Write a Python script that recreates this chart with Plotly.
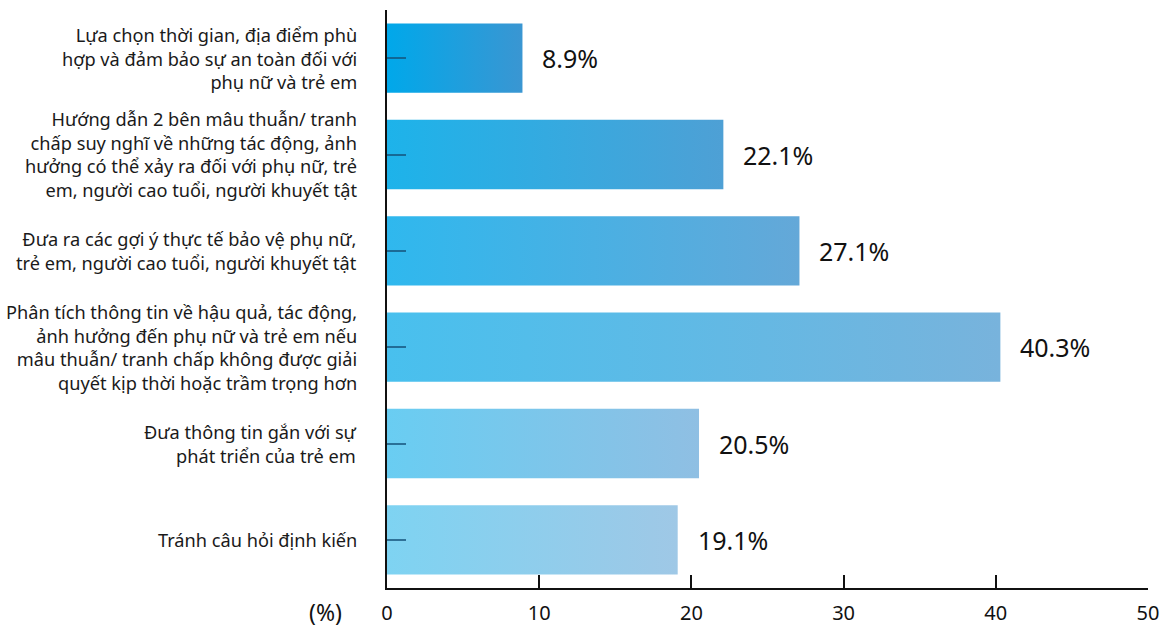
import plotly.graph_objects as go

# Survey items (top to bottom) and their shares in percent
categories = [
    "Lựa chọn thời gian, địa điểm phù<br>hợp và đảm bảo sự an toàn đối với<br>phụ nữ và trẻ em",
    "Hướng dẫn 2 bên mâu thuẫn/ tranh<br>chấp suy nghĩ về những tác động, ảnh<br>hưởng có thể xảy ra đối với phụ nữ, trẻ<br>em, người cao tuổi, người khuyết tật",
    "Đưa ra các gợi ý thực tế bảo vệ phụ nữ,<br>trẻ em, người cao tuổi, người khuyết tật",
    "Phân tích thông tin về hậu quả, tác động,<br>ảnh hưởng đến phụ nữ và trẻ em nếu<br>mâu thuẫn/ tranh chấp không được giải<br>quyết kịp thời hoặc trầm trọng hơn",
    "Đưa thông tin gắn với sự<br>phát triển của trẻ em",
    "Tránh câu hỏi định kiến",
]
values = [8.9, 22.1, 27.1, 40.3, 20.5, 19.1]
value_labels = ["8.9%", "22.1%", "27.1%", "40.3%", "20.5%", "19.1%"]
x_ticks = [0, 10, 20, 30, 40, 50]

# Left/right colours of each bar's horizontal gradient
grad_left = ["#00A8EA", "#1DB3EA", "#2FB8EE", "#48C0EE", "#69CDF2", "#7ED3F2"]
grad_right = ["#3A96D2", "#4EA0D5", "#64A8D8", "#78B3DC", "#8FBFE3", "#9FC8E6"]

BAR_HALF = 0.36
LABEL_FONT = "Noto Sans, Open Sans, sans-serif"

fig = go.Figure()

for i, v in enumerate(values):
    fig.add_trace(go.Scatter(
        x=[0, v, v, 0, 0],
        y=[i - BAR_HALF, i - BAR_HALF, i + BAR_HALF, i + BAR_HALF, i - BAR_HALF],
        mode="lines",
        line=dict(width=0),
        fill="toself",
        fillgradient=dict(
            type="horizontal",
            colorscale=[[0, grad_left[i]], [1, grad_right[i]]],
        ),
        hoverinfo="skip",
        showlegend=False,
    ))

annotations = []
for i, (cat, v, lab) in enumerate(zip(categories, values, value_labels)):
    annotations.append(dict(
        x=0, xref="paper", y=i, yref="y",
        text=cat, showarrow=False,
        xanchor="right", yanchor="middle", align="right",
        xshift=-28,
        font=dict(family=LABEL_FONT, size=18.2, color="#1a1a1a"),
    ))
    annotations.append(dict(
        x=v, xref="x", y=i, yref="y",
        text=lab, showarrow=False,
        xanchor="left", yanchor="middle",
        xshift=18,
        font=dict(family=LABEL_FONT, size=25, color="#111111"),
    ))

annotations.append(dict(
    x=0, xref="paper", y=0, yref="paper",
    text="(%)", showarrow=False,
    xanchor="center", yanchor="middle",
    xshift=-62, yshift=-24,
    font=dict(family=LABEL_FONT, size=23, color="#111111"),
))

fig.update_layout(
    width=1172, height=628,
    margin=dict(l=387, r=24, t=10, b=40),
    paper_bgcolor="white", plot_bgcolor="white",
    annotations=annotations,
    xaxis=dict(
        range=[0, 50], tickvals=x_ticks, ticktext=[str(t) for t in x_ticks],
        showgrid=False, zeroline=False, automargin=False,
        showline=True, linecolor="#111111", linewidth=2,
        ticks="inside", ticklen=13, tickwidth=2, tickcolor="#111111",
        tickfont=dict(family=LABEL_FONT, size=20, color="#111111"),
        ticklabelstandoff=6,
        fixedrange=True,
    ),
    yaxis=dict(
        range=[len(values) - 0.5, -0.5],
        tickvals=list(range(len(values))), showticklabels=False,
        showgrid=False, zeroline=False, automargin=False,
        showline=True, linecolor="#111111", linewidth=2,
        ticks="inside", ticklen=19, tickwidth=2, tickcolor="rgba(20,80,120,0.75)",
        fixedrange=True,
    ),
)

fig.write_html("out.html")
